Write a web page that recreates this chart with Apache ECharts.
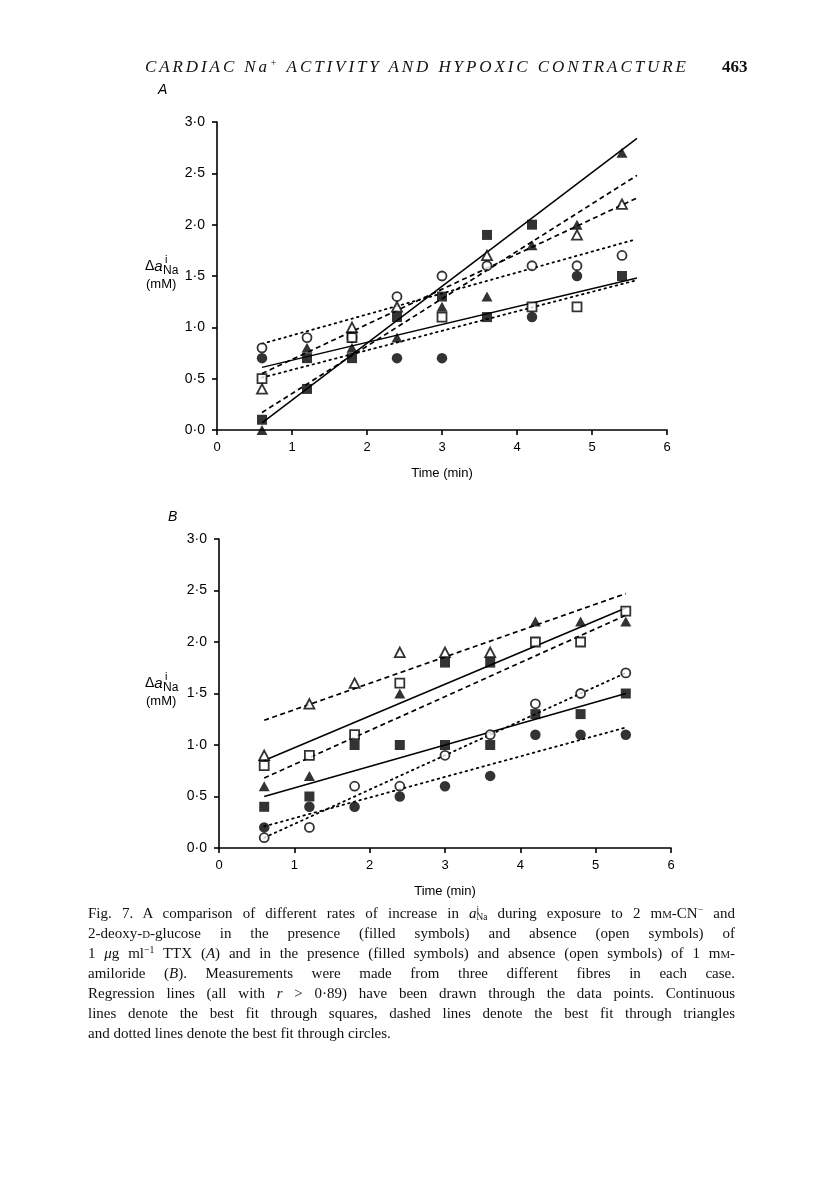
<!DOCTYPE html>
<html>
<head>
<meta charset="utf-8">
<script src="https://cdn.jsdelivr.net/npm/echarts@6/dist/echarts.min.js"></script>
<style>
  html, body { margin: 0; padding: 0; background: #fff; }
  #chart { position: absolute; left: 0; top: 0; width: 816px; height: 1203px; }
  #hdr { position: absolute; left: 145px; top: 57px; font: italic 17px "Liberation Serif", serif; white-space: nowrap; color: #111; }
  #hdr sup { font-size: 0.6em; vertical-align: 0.55em; line-height: 0; }
  #pg { position: absolute; left: 722px; top: 57px; font: bold 17px "Liberation Serif", serif; color: #111; }
  #cap { position: absolute; left: 88px; top: 903px; width: 647px; font: 15px "Liberation Serif", serif; line-height: 20px; color: #111; }
  #cap .ln { text-align: justify; text-align-last: justify; height: 20px; overflow: visible; }
  #cap .last { text-align: left; text-align-last: left; }
  .sc { font-size: 0.72em; }
  .ss { display: inline-block; vertical-align: -0.25em; line-height: 0.75em; font-size: 0.62em; text-align: left; }
  .ss span { display: block; }
  sup.m { font-size: 0.65em; vertical-align: 0.5em; line-height: 0; }
</style>
</head>
<body>
<div id="chart"></div>
<div id="hdr">CARDIAC Na<sup>+</sup> ACTIVITY AND HYPOXIC CONTRACTURE</div>
<div id="pg">463</div>
<div id="cap">
  <div class="ln">Fig. 7. A comparison of different rates of increase in <i>a</i><span class="ss"><span>i</span><span>Na</span></span> during exposure to 2 m<span class="sc">M</span>-CN<sup class="m">−</sup> and</div>
  <div class="ln">2-deoxy-<span class="sc">D</span>-glucose in the presence (filled symbols) and absence (open symbols) of</div>
  <div class="ln">1 <i>μ</i>g ml<sup class="m">−1</sup> TTX (<i>A</i>) and in the presence (filled symbols) and absence (open symbols) of 1 m<span class="sc">M</span>-</div>
  <div class="ln">amiloride (<i>B</i>). Measurements were made from three different fibres in each case.</div>
  <div class="ln">Regression lines (all with <i>r</i> &gt; 0·89) have been drawn through the data points. Continuous</div>
  <div class="ln">lines denote the best fit through squares, dashed lines denote the best fit through triangles</div>
  <div class="ln last">and dotted lines denote the best fit through circles.</div>
</div>
<script>
// ---------- DATA ----------
// Panel A: time (min) vs Δa_Na (mM)
const A_filledSquares   = [[0.6,0.1],[1.2,0.4],[1.2,0.7],[1.8,0.7],[2.4,1.1],[3.0,1.3],[3.6,1.9],[3.6,1.1],[4.2,2.0],[5.4,1.5]];
const A_openSquares     = [[0.6,0.5],[1.8,0.9],[3.0,1.1],[4.2,1.2],[4.8,1.2]];
const A_filledTriangles = [[0.6,0.0],[1.2,0.8],[1.8,0.8],[2.4,0.9],[3.0,1.2],[3.6,1.3],[4.2,1.8],[4.8,2.0],[5.4,2.7]];
const A_openTriangles   = [[0.6,0.4],[1.8,1.0],[2.4,1.2],[3.6,1.7],[4.8,1.9],[5.4,2.2]];
const A_filledCircles   = [[0.6,0.7],[2.4,0.7],[3.0,0.7],[4.2,1.1],[4.8,1.5]];
const A_openCircles     = [[0.6,0.8],[1.2,0.9],[1.8,0.9],[2.4,1.3],[3.0,1.5],[3.6,1.6],[4.2,1.6],[4.8,1.6],[5.4,1.7]];
// Panel A regression lines (end points)
const A_fitSquares1   = [[0.6,0.07],[5.6,2.84]];
const A_fitSquares2   = [[0.6,0.61],[5.6,1.48]];
const A_fitTriangles1 = [[0.6,0.17],[5.6,2.48]];
const A_fitTriangles2 = [[0.6,0.55],[5.6,2.26]];
const A_fitCircles1   = [[0.6,0.84],[5.55,1.85]];
const A_fitCircles2   = [[0.6,0.51],[5.6,1.46]];

// Panel B
const B_filledSquares   = [[0.6,0.4],[1.2,0.5],[1.8,1.0],[2.4,1.0],[3.0,1.0],[3.6,1.0],[4.2,1.3],[4.8,1.3],[5.4,1.5],[3.0,1.8],[3.6,1.8]];
const B_openSquares     = [[0.6,0.8],[1.2,0.9],[1.8,1.1],[2.4,1.6],[4.2,2.0],[4.8,2.0],[5.4,2.3]];
const B_filledTriangles = [[0.6,0.6],[1.2,0.7],[2.4,1.5],[4.2,2.2],[4.8,2.2],[5.4,2.2]];
const B_openTriangles   = [[0.6,0.9],[1.2,1.4],[1.8,1.6],[2.4,1.9],[3.0,1.9],[3.6,1.9]];
const B_filledCircles   = [[0.6,0.2],[1.2,0.4],[1.8,0.4],[2.4,0.5],[3.0,0.6],[3.6,0.7],[4.2,1.1],[4.8,1.1],[5.4,1.1]];
const B_openCircles     = [[0.6,0.1],[1.2,0.2],[1.8,0.6],[2.4,0.6],[3.0,0.9],[3.6,1.1],[4.2,1.4],[4.8,1.5],[5.4,1.7]];
// Panel B regression lines (end points)
const B_fitSquares1   = [[0.6,0.85],[5.4,2.33]];
const B_fitSquares2   = [[0.6,0.50],[5.4,1.50]];
const B_fitTriangles1 = [[0.6,1.24],[5.4,2.47]];
const B_fitTriangles2 = [[0.6,0.68],[5.4,2.26]];
const B_fitCircles1   = [[0.6,0.10],[5.4,1.70]];
const B_fitCircles2   = [[0.6,0.21],[5.4,1.17]];

const xTicks = [0,1,2,3,4,5,6];
const yTicks = [0,0.5,1.0,1.5,2.0,2.5,3.0];
const xTitle = 'Time (min)';

// ---------- STYLE / LAYOUT ----------
const SANS = '"Liberation Sans", Arial, sans-serif';
const lineStyles = {
  solid:  { color:'#000', width:1.5, type:'solid' },
  dashed: { color:'#000', width:1.7, type:[5,3.5] },
  dotted: { color:'#000', width:1.8, type:[1.6,4.2], cap:'round' }
};
const markers = {
  filledSquare:   { symbol:'rect', symbolSize:10, itemStyle:{ color:'#000' } },
  openSquare:     { symbol:'rect', symbolSize:9, itemStyle:{ color:'#fff', borderColor:'#000', borderWidth:1.8 } },
  filledTriangle: { symbol:'triangle', symbolSize:[11,10], itemStyle:{ color:'#000' } },
  openTriangle:   { symbol:'triangle', symbolSize:[10,9.5], itemStyle:{ color:'#fff', borderColor:'#000', borderWidth:1.8 } },
  filledCircle:   { symbol:'circle', symbolSize:10.5, itemStyle:{ color:'#000' } },
  openCircle:     { symbol:'circle', symbolSize:9, itemStyle:{ color:'#fff', borderColor:'#000', borderWidth:1.8 } }
};

function mkX(i){
  return {
    gridIndex:i, type:'value', min:xTicks[0], max:xTicks[xTicks.length-1], interval:1,
    axisLine:{ show:true, onZero:false, lineStyle:{ color:'#000', width:1.6 } },
    axisTick:{ show:true, inside:false, length:5, lineStyle:{ color:'#000', width:1.6 } },
    axisLabel:{ color:'#000', fontSize:13, fontFamily:SANS, margin:11 },
    splitLine:{ show:false },
    name:xTitle, nameLocation:'middle', nameGap:37,
    nameTextStyle:{ color:'#000', fontSize:13, fontFamily:SANS }
  };
}
function mkY(i){
  return {
    gridIndex:i, type:'value', min:yTicks[0], max:yTicks[yTicks.length-1], interval:0.5,
    axisLine:{ show:true, onZero:false, lineStyle:{ color:'#000', width:1.6 } },
    axisTick:{ show:true, inside:false, length:5, lineStyle:{ color:'#000', width:1.6 } },
    axisLabel:{ color:'#000', fontSize:14, fontFamily:SANS, margin:12,
      formatter: v => v.toFixed(1).replace('.', '·') },
    splitLine:{ show:false }
  };
}
function sc(i, data, m){
  return Object.assign({ type:'scatter', xAxisIndex:i, yAxisIndex:i, data:data, z:5, silent:true }, JSON.parse(JSON.stringify(m)));
}
function ln(i, data, st){
  return { type:'line', xAxisIndex:i, yAxisIndex:i, data:data, symbol:'none', z:3, silent:true, lineStyle:st };
}

const series = [
  ln(0, A_fitSquares1, lineStyles.solid), ln(0, A_fitSquares2, lineStyles.solid),
  ln(0, A_fitTriangles1, lineStyles.dashed), ln(0, A_fitTriangles2, lineStyles.dashed),
  ln(0, A_fitCircles1, lineStyles.dotted), ln(0, A_fitCircles2, lineStyles.dotted),
  sc(0, A_openCircles, markers.openCircle), sc(0, A_filledCircles, markers.filledCircle),
  sc(0, A_openSquares, markers.openSquare), sc(0, A_openTriangles, markers.openTriangle),
  sc(0, A_filledSquares, markers.filledSquare), sc(0, A_filledTriangles, markers.filledTriangle),

  ln(1, B_fitSquares1, lineStyles.solid), ln(1, B_fitSquares2, lineStyles.solid),
  ln(1, B_fitTriangles1, lineStyles.dashed), ln(1, B_fitTriangles2, lineStyles.dashed),
  ln(1, B_fitCircles1, lineStyles.dotted), ln(1, B_fitCircles2, lineStyles.dotted),
  sc(1, B_openCircles, markers.openCircle), sc(1, B_filledCircles, markers.filledCircle),
  sc(1, B_openSquares, markers.openSquare), sc(1, B_openTriangles, markers.openTriangle),
  sc(1, B_filledSquares, markers.filledSquare), sc(1, B_filledTriangles, markers.filledTriangle)
];

function yName(x, yc){
  return [
    { type:'text', left:x, top:yc-17, style:{ text:'{d|Δ}{a|a}', rich:{ d:{ fontSize:14, fontFamily:SANS, fill:'#000' }, a:{ fontSize:15, fontStyle:'italic', fontFamily:SANS, fill:'#000' } } } },
    { type:'text', left:x+20, top:yc-22, style:{ text:'i', fontSize:11, fontFamily:SANS, fill:'#000' } },
    { type:'text', left:x+18, top:yc-11, style:{ text:'Na', fontSize:12, fontFamily:SANS, fill:'#000' } },
    { type:'text', left:x+1, top:yc+2, style:{ text:'(mM)', fontSize:13, fontFamily:SANS, fill:'#000' } }
  ];
}

const chart = echarts.init(document.getElementById('chart'), null, { renderer:'canvas' });
chart.setOption({
  animation:false,
  backgroundColor:'#fff',
  grid:[ { left:217, top:122, width:450, height:308 }, { left:219, top:539, width:452, height:309 } ],
  xAxis:[ mkX(0), mkX(1) ],
  yAxis:[ mkY(0), mkY(1) ],
  series:series,
  graphic:[
    { type:'text', left:158, top:83, style:{ text:'A', fontSize:14, fontStyle:'italic', fontFamily:SANS, fill:'#000' } },
    { type:'text', left:168, top:510, style:{ text:'B', fontSize:14, fontStyle:'italic', fontFamily:SANS, fill:'#000' } }
  ].concat(yName(145, 276), yName(145, 693))
});

// fit header width
(function(){
  const h = document.getElementById('hdr');
  const target = 541;
  const n = h.textContent.length;
  const w = h.getBoundingClientRect().width;
  h.style.letterSpacing = ((target - w) / (n - 1)).toFixed(2) + 'px';
})();
</script>
</body>
</html>
